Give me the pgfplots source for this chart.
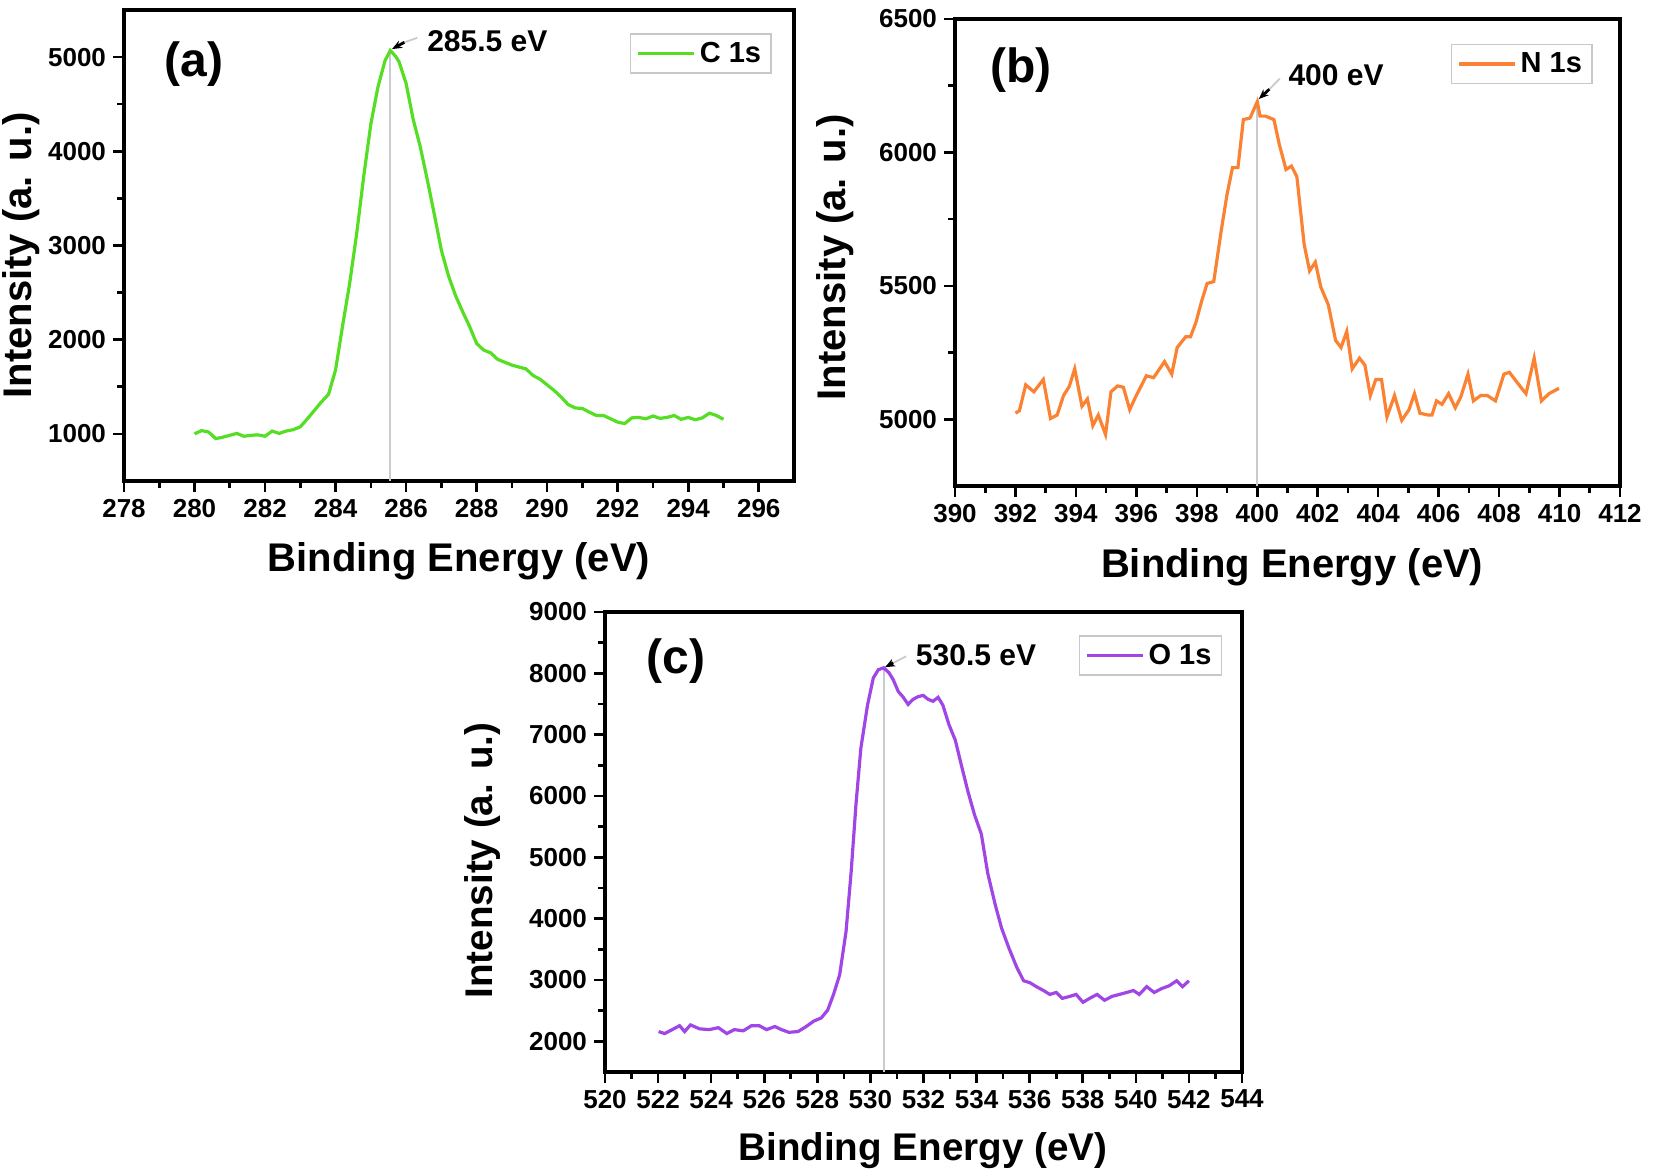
\documentclass[border=0pt]{standalone}
\usepackage{fontspec}
\setmainfont{Liberation Sans}
\usepackage{pgfplots}
\pgfplotsset{compat=1.18}
\usetikzlibrary{arrows.meta}
\definecolor{cgreen}{RGB}{85,222,35}
\definecolor{corange}{RGB}{250,130,50}
\definecolor{cpurple}{RGB}{160,70,230}
\definecolor{vgray}{RGB}{200,204,208}
\definecolor{lgray}{RGB}{200,200,200}

\pgfplotsset{
  xps/.style={
    scale only axis,
    anchor=south west,
    axis line style={line width=1.6pt},
    tick style={black, line width=1.3pt},
    tick align=outside,
    tick pos=left,
    major tick length=5.5pt,
    minor tick length=3.5pt,
    minor x tick num=1,
    minor y tick num=1,
    /pgf/number format/assume math mode=true,
    /pgf/number format/set thousands separator={},
    scaled ticks=false,
    tick label style={font=\bfseries\fontsize{13}{15}\selectfont},
    label style={font=\bfseries\fontsize{20}{24}\selectfont},
    xlabel={Binding Energy (eV)},
    ylabel={Intensity (a. u.)},
    legend style={draw=lgray, line width=0.8pt, font=\bfseries\fontsize{14.5}{16}\selectfont, anchor=north east, inner xsep=3pt, inner ysep=2pt},
    legend image code/.code={\draw[#1, line width=1.6pt] (0pt,0pt) -- (28pt,0pt);},
    legend cell align=left,
  },
}
\tikzset{
  ann/.style={anchor=west, font=\bfseries\fontsize{15}{17}\selectfont},
  plab/.style={font=\bfseries\fontsize{24}{28}\selectfont},
}

\begin{document}
\begin{tikzpicture}
\path[use as bounding box] (0,0) rectangle (827pt,587pt);

% ---------------- (a) C 1s ----------------
\begin{axis}[xps, at={(62pt,346.5pt)}, width=335pt, height=235.5pt,
  xmin=278, xmax=297, ymin=500, ymax=5500,
  xtick={278,280,...,296}, ytick={1000,2000,...,5000},
  xlabel style={at={(axis description cs:0.50,-0.171)}, anchor=center},
  ylabel style={at={(axis description cs:-0.154,0.479)}, anchor=center},
  legend style={at={(axis description cs:0.967,0.951)}}]
\addplot[vgray, line width=1pt, forget plot] coordinates {(285.55,500) (285.55,5070)};
\addplot[cgreen, line width=1.6pt] coordinates {
(280.0,1000)(280.2,1035)(280.4,1020)(280.6,950)(280.8,965)(281.0,985)(281.2,1005)
(281.4,975)(281.6,985)(281.8,990)(282.0,975)(282.2,1030)(282.4,1005)(282.6,1030)
(282.8,1045)(283.0,1075)(283.2,1160)(283.4,1250)(283.6,1340)(283.8,1420)(284.0,1680)
(284.2,2150)(284.4,2600)(284.6,3130)(284.8,3740)(285.0,4290)(285.2,4680)(285.4,4960)
(285.55,5070)(285.7,5010)(285.8,4950)(286.0,4720)(286.2,4340)(286.4,4050)(286.6,3700)
(286.8,3330)(287.0,2950)(287.2,2680)(287.4,2470)(287.6,2300)(287.8,2140)(288.0,1960)
(288.2,1890)(288.4,1860)(288.6,1790)(288.8,1760)(289.0,1730)(289.2,1710)(289.4,1690)
(289.6,1620)(289.8,1580)(290.0,1520)(290.2,1460)(290.4,1390)(290.6,1310)(290.8,1275)
(291.0,1270)(291.2,1230)(291.4,1195)(291.6,1195)(291.8,1160)(292.0,1125)(292.2,1110)
(292.4,1170)(292.6,1175)(292.8,1160)(293.0,1190)(293.2,1165)(293.4,1175)(293.6,1195)
(293.8,1155)(294.0,1175)(294.2,1150)(294.4,1170)(294.6,1220)(294.8,1195)(295.0,1155)
};
\addlegendentry{C 1s}
\node[plab] at (axis description cs:0.104,0.885) {(a)};
\draw[vgray, line width=0.9pt] (axis cs:285.95,5157) -- (axis cs:286.32,5205);
\draw[-{Stealth[length=5pt,width=4pt]}, black, line width=1.4pt] (axis cs:285.95,5157) -- (axis cs:285.6,5085);
\node[ann] at (axis cs:286.40,5167) {285.5 eV};
\end{axis}

% ---------------- (b) N 1s ----------------
\begin{axis}[xps, at={(477.5pt,344pt)}, width=332.5pt, height=233.5pt,
  xmin=390, xmax=412, ymin=4750, ymax=6500,
  xtick={390,392,...,412}, ytick={5000,5500,6000,6500},
  xlabel style={at={(axis description cs:0.507,-0.175)}, anchor=center},
  ylabel style={at={(axis description cs:-0.18,0.49)}, anchor=center},
  legend style={at={(axis description cs:0.959,0.947)}}]
\addplot[vgray, line width=1pt, forget plot] coordinates {(400,4750) (400,6190)};
\addplot[corange, line width=1.6pt] coordinates {
(392.0,5023)(392.13,5032)(392.34,5129)(392.61,5103)(392.92,5149)(393.16,5003)
(393.38,5016)(393.59,5089)(393.78,5123)(393.96,5189)(394.20,5049)(394.38,5076)
(394.56,4976)(394.74,5016)(394.98,4943)(395.16,5103)(395.38,5125)(395.57,5120)
(395.78,5036)(395.97,5083)(396.33,5163)(396.57,5156)(396.93,5216)(397.17,5169)
(397.35,5269)(397.63,5309)(397.79,5309)(397.97,5363)(398.16,5443)(398.34,5509)
(398.56,5516)(398.81,5709)(399.0,5843)(399.18,5943)(399.36,5943)(399.54,6123)
(399.76,6129)(400.0,6190)(400.09,6136)(400.27,6136)(400.55,6123)(400.73,6029)
(400.95,5936)(401.13,5949)(401.31,5909)(401.55,5656)(401.73,5556)(401.92,5589)
(402.10,5496)(402.35,5429)(402.59,5296)(402.77,5269)(402.96,5329)(403.14,5189)
(403.38,5229)(403.56,5203)(403.74,5089)(403.92,5149)(404.11,5149)(404.29,5009)
(404.54,5089)(404.78,4996)(405.02,5036)(405.20,5096)(405.38,5023)(405.64,5016)
(405.78,5016)(405.93,5069)(406.11,5056)(406.33,5096)(406.55,5043)(406.73,5083)
(406.97,5169)(407.15,5069)(407.39,5089)(407.61,5089)(407.88,5069)(408.16,5169)
(408.34,5176)(408.70,5123)(408.89,5096)(409.16,5229)(409.40,5069)(409.65,5096)
(409.98,5116)
};
\addlegendentry{N 1s}
\node[plab] at (axis description cs:0.099,0.891) {(b)};
\draw[vgray, line width=0.9pt] (axis cs:400.4,6237) -- (axis cs:400.75,6277);
\draw[-{Stealth[length=5pt,width=4pt]}, black, line width=1.4pt] (axis cs:400.4,6237) -- (axis cs:400.05,6200);
\node[ann] at (axis cs:400.8,6289) {400 eV};
\end{axis}

% ---------------- (c) O 1s ----------------
\begin{axis}[xps, at={(302.5pt,51pt)}, width=318.5pt, height=230pt,
  xmin=520, xmax=544, ymin=1500, ymax=9000,
  xtick={520,522,...,544}, ytick={2000,3000,...,9000},
  label style={font=\bfseries\fontsize{19.3}{23}\selectfont},
  xlabel style={at={(axis description cs:0.499,-0.171)}, anchor=center},
  ylabel style={at={(axis description cs:-0.193,0.46)}, anchor=center},
  legend style={at={(axis description cs:0.969,0.95)}}]
\addplot[vgray, line width=1pt, forget plot] coordinates {(530.5,1500) (530.5,8080)};
\addplot[cpurple, line width=1.6pt] coordinates {
(522.02,2159)(522.25,2127)(522.53,2191)(522.81,2255)(523.0,2159)(523.22,2268)
(523.56,2204)(523.93,2191)(524.27,2223)(524.59,2127)(524.87,2191)(525.21,2172)
(525.52,2255)(525.81,2255)(526.09,2191)(526.40,2242)(526.65,2191)(526.93,2147)
(527.27,2159)(527.58,2242)(527.87,2331)(528.15,2382)(528.39,2510)(528.61,2765)
(528.84,3083)(529.08,3785)(529.27,4741)(529.46,5888)(529.64,6780)(529.89,7481)
(530.11,7927)(530.3,8060)(530.5,8090)(530.7,8010)(530.86,7896)(531.05,7704)
(531.24,7609)(531.42,7494)(531.61,7577)(531.80,7621)(531.99,7640)(532.17,7577)
(532.36,7545)(532.55,7609)(532.73,7481)(532.96,7163)(533.20,6908)(533.45,6461)
(533.67,6079)(533.92,5697)(534.18,5378)(534.42,4741)(534.70,4231)(534.94,3848)
(535.21,3530)(535.51,3211)(535.77,2988)(536.01,2956)(536.25,2892)(536.52,2829)
(536.76,2765)(537.00,2797)(537.23,2701)(537.51,2733)(537.75,2765)(538.01,2637)
(538.26,2701)(538.54,2765)(538.82,2669)(539.10,2733)(539.38,2765)(539.66,2797)
(539.91,2829)(540.13,2765)(540.41,2892)(540.69,2797)(540.97,2860)(541.25,2905)
(541.54,2988)(541.76,2892)(542.0,2988)
};
\addlegendentry{O 1s}
\node[plab] at (axis description cs:0.111,0.893) {(c)};
\draw[vgray, line width=0.9pt] (axis cs:530.86,8170) -- (axis cs:531.35,8278);
\draw[-{Stealth[length=5pt,width=4pt]}, black, line width=1.4pt] (axis cs:530.86,8170) -- (axis cs:530.55,8100);
\node[ann] at (axis cs:531.45,8290) {530.5 eV};
\end{axis}
\end{tikzpicture}
\end{document}
